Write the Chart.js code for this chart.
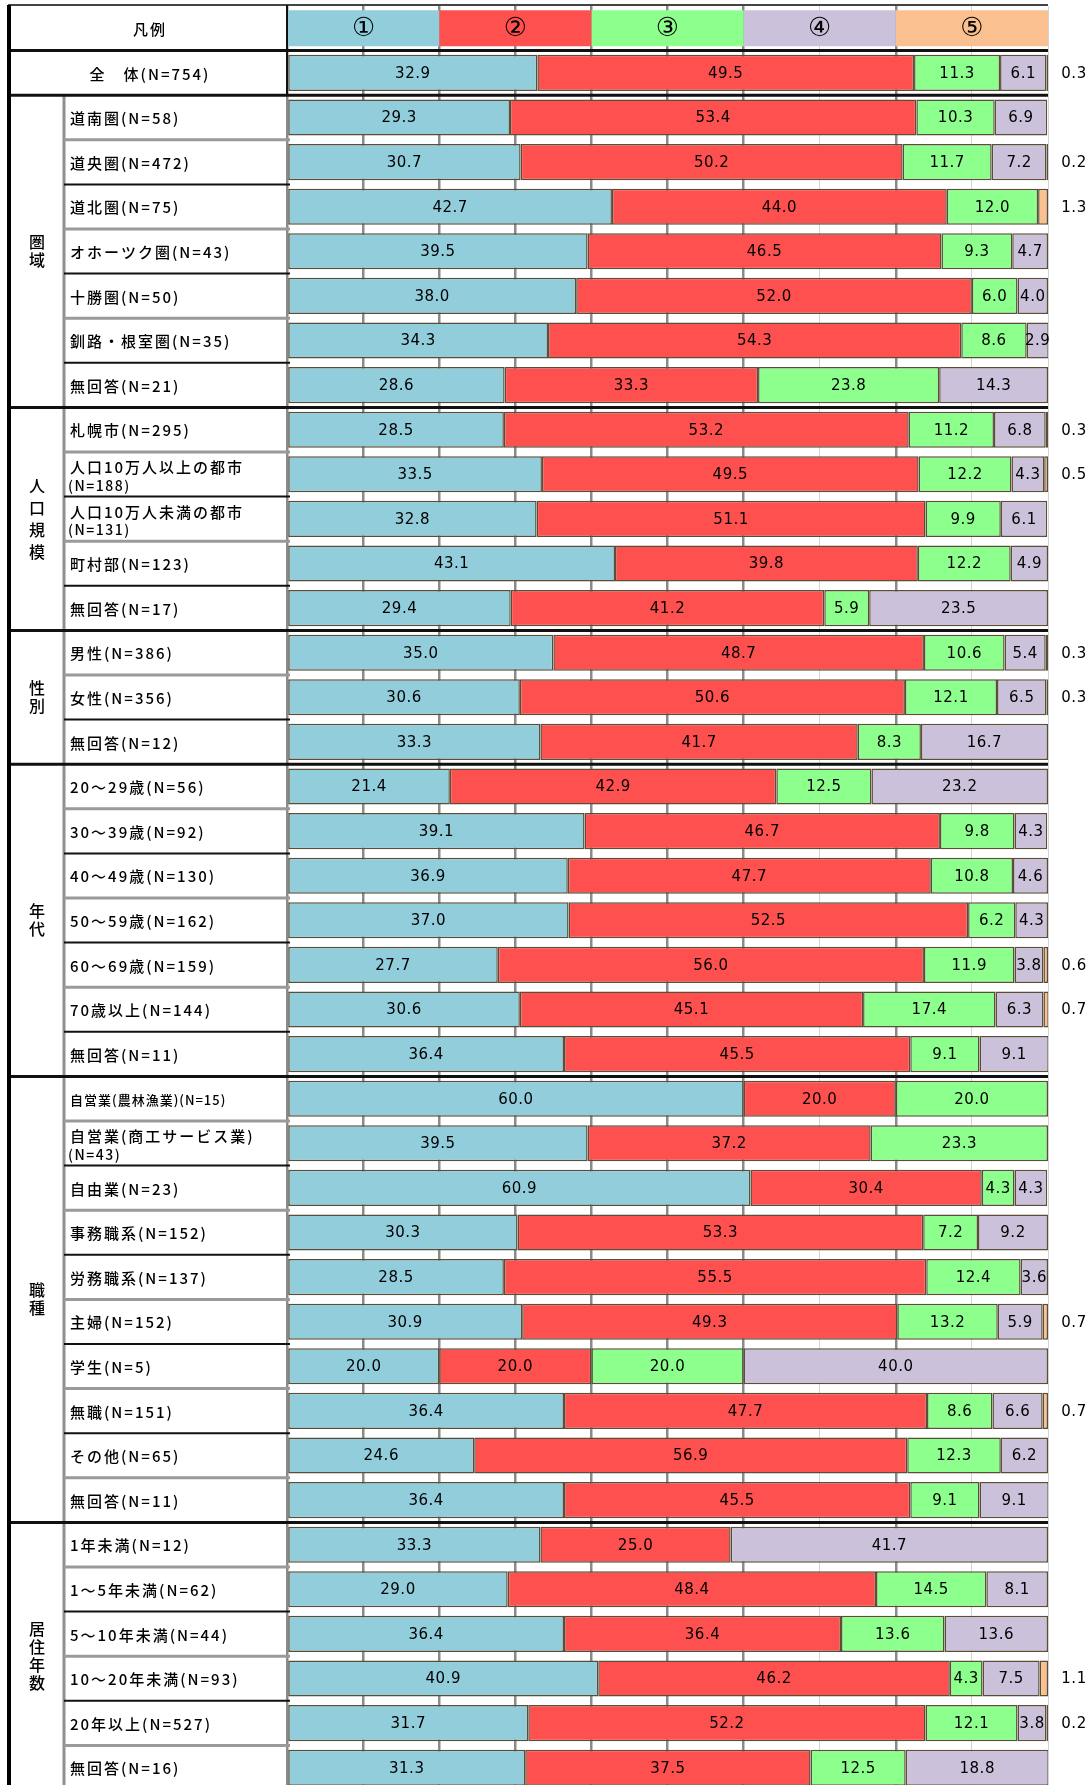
<!DOCTYPE html>
<html lang="ja">
<head>
<meta charset="utf-8">
<script src="https://cdn.jsdelivr.net/npm/chart.js@4.4.1/dist/chart.umd.min.js"></script>
<style>
  html, body { margin: 0; padding: 0; background: #fff; }
  #wrap { position: relative; width: 1092px; height: 1790px; }
</style>
</head>
<body>
<div id="wrap"><canvas id="chart"></canvas></div>
<script>
// 行ラベル（先頭は凡例行）
const categories = [
  '凡例', '全　体(N=754)',
  '道南圏(N=58)', '道央圏(N=472)', '道北圏(N=75)', 'オホーツク圏(N=43)', '十勝圏(N=50)', '釧路・根室圏(N=35)', '無回答(N=21)',
  '札幌市(N=295)', '人口10万人以上の都市\n(N=188)', '人口10万人未満の都市\n(N=131)', '町村部(N=123)', '無回答(N=17)',
  '男性(N=386)', '女性(N=356)', '無回答(N=12)',
  '20～29歳(N=56)', '30～39歳(N=92)', '40～49歳(N=130)', '50～59歳(N=162)', '60～69歳(N=159)', '70歳以上(N=144)', '無回答(N=11)',
  '自営業(農林漁業)(N=15)', '自営業(商工サービス業)\n(N=43)', '自由業(N=23)', '事務職系(N=152)', '労務職系(N=137)', '主婦(N=152)', '学生(N=5)', '無職(N=151)', 'その他(N=65)', '無回答(N=11)',
  '1年未満(N=12)', '1～5年未満(N=62)', '5～10年未満(N=44)', '10～20年未満(N=93)', '20年以上(N=527)', '無回答(N=16)'
];

const groupNames = ['圏域', '人口規模', '性別', '年代', '職種', '居住年数'];
const groupFrom  = [2, 9, 14, 17, 24, 34];
const groupTo    = [8, 13, 16, 23, 33, 39];

const legendLabels = ['①', '②', '③', '④', '⑤'];
const legendShare = [20, 20, 20, 20, 20];

// 全体 以下の各行の値（％）
const ans1 = [32.9, 29.3, 30.7, 42.7, 39.5, 38.0, 34.3, 28.6, 28.5, 33.5, 32.8, 43.1, 29.4, 35.0, 30.6, 33.3,
  21.4, 39.1, 36.9, 37.0, 27.7, 30.6, 36.4, 60.0, 39.5, 60.9, 30.3, 28.5, 30.9, 20.0, 36.4, 24.6, 36.4,
  33.3, 29.0, 36.4, 40.9, 31.7, 31.3];
const ans2 = [49.5, 53.4, 50.2, 44.0, 46.5, 52.0, 54.3, 33.3, 53.2, 49.5, 51.1, 39.8, 41.2, 48.7, 50.6, 41.7,
  42.9, 46.7, 47.7, 52.5, 56.0, 45.1, 45.5, 20.0, 37.2, 30.4, 53.3, 55.5, 49.3, 20.0, 47.7, 56.9, 45.5,
  25.0, 48.4, 36.4, 46.2, 52.2, 37.5];
const ans3 = [11.3, 10.3, 11.7, 12.0, 9.3, 6.0, 8.6, 23.8, 11.2, 12.2, 9.9, 12.2, 5.9, 10.6, 12.1, 8.3,
  12.5, 9.8, 10.8, 6.2, 11.9, 17.4, 9.1, 20.0, 23.3, 4.3, 7.2, 12.4, 13.2, 20.0, 8.6, 12.3, 9.1,
  0, 14.5, 13.6, 4.3, 12.1, 12.5];
const ans4 = [6.1, 6.9, 7.2, 0, 4.7, 4.0, 2.9, 14.3, 6.8, 4.3, 6.1, 4.9, 23.5, 5.4, 6.5, 16.7,
  23.2, 4.3, 4.6, 4.3, 3.8, 6.3, 9.1, 0, 0, 4.3, 9.2, 3.6, 5.9, 40.0, 6.6, 6.2, 9.1,
  41.7, 8.1, 13.6, 7.5, 3.8, 18.8];
const ans5 = [0.3, 0, 0.2, 1.3, 0, 0, 0, 0, 0.3, 0.5, 0, 0, 0, 0.3, 0.3, 0,
  0, 0, 0, 0, 0.6, 0.7, 0, 0, 0, 0, 0, 0, 0.7, 0, 0.7, 0, 0,
  0, 0, 0, 1.1, 0.2, 0];

const colors = ['#92CDDC', '#FF5050', '#8CFF8C', '#CCC1DA', '#FAC090'];
const series = [ans1, ans2, ans3, ans4, ans5];

const datasets = series.map((vals, k) => ({
  label: legendLabels[k],
  data: [legendShare[k]].concat(vals),
  backgroundColor: colors[k],
  borderColor: '#5a4e38',
  borderWidth: ctx => (ctx.dataIndex === 0 || !ctx.raw) ? 0 : 1.5,
  borderSkipped: false,
  stack: 'all',
  categoryPercentage: 1,
  barPercentage: 0.81
}));

const textFont = '"Noto Sans CJK JP", "Noto Sans", sans-serif';
const numFont = '"DejaVu Sans", Verdana, sans-serif';

function drawLine(ctx, x1, y1, x2, y2, color, w) {
  ctx.strokeStyle = color;
  ctx.lineWidth = w;
  ctx.beginPath();
  ctx.moveTo(x1, y1);
  ctx.lineTo(x2, y2);
  ctx.stroke();
}

const tablePlugin = {
  id: 'table',
  afterDatasetsDraw(chart) {
    const ctx = chart.ctx;
    const area = chart.chartArea;
    const y = chart.scales.y;
    const pitch = y.getPixelForValue(1) - y.getPixelForValue(0);
    const edge = i => y.getPixelForValue(i) + pitch / 2;
    ctx.save();

    // 値ラベル
    ctx.textBaseline = 'middle';
    ctx.textAlign = 'center';
    ctx.fillStyle = '#000';
    chart.data.datasets.forEach((ds, di) => {
      const meta = chart.getDatasetMeta(di);
      meta.data.forEach((bar, i) => {
        const v = ds.data[i];
        if (!v) return;
        if (i === 0) {
          ctx.font = '26px "DejaVu Sans", ' + textFont;
          ctx.letterSpacing = '0px';
          ctx.fillText(legendLabels[di], (bar.x + bar.base) / 2, bar.y + 1);
          return;
        }
        ctx.font = '15px ' + numFont;
        ctx.letterSpacing = '0.5px';
        const x = di === 4 ? area.right + 26 : (bar.x + bar.base) / 2;
        ctx.fillText(v.toFixed(1), x, bar.y + 1);
      });
    });

    // 行ラベル
    categories.forEach((lab, i) => {
      const cy = y.getPixelForValue(i);
      if (i < 2) {
        ctx.textAlign = 'center';
        ctx.font = '500 15px ' + textFont;
        ctx.letterSpacing = '2px';
        ctx.fillText(lab, 150, cy + 1);
        return;
      }
      ctx.textAlign = 'left';
      const parts = lab.split('\n');
      ctx.letterSpacing = '2px';
      if (parts.length === 2) {
        ctx.font = '500 15px ' + textFont;
        ctx.fillText(parts[0], 70, cy - 7);
        ctx.font = '500 14px ' + textFont;
        ctx.letterSpacing = '1.5px';
        ctx.fillText(parts[1], 68, cy + 11);
      } else {
        ctx.font = (lab.length > 14 ? '500 13px ' : '500 15px ') + textFont;
        if (lab.length > 14) ctx.letterSpacing = '1px';
        ctx.fillText(lab, 70, cy + 1);
      }
    });

    // 分類（縦書き）
    ctx.textAlign = 'center';
    ctx.font = '500 16px ' + textFont;
    ctx.letterSpacing = '0px';
    groupNames.forEach((g, k) => {
      const mid = (y.getPixelForValue(groupFrom[k]) + y.getPixelForValue(groupTo[k])) / 2;
      const gap = k === 1 ? 22 : 18;
      [...g].forEach((ch, j) => {
        ctx.fillText(ch, 37, mid + (j - (g.length - 1) / 2) * gap);
      });
      // 縦の区切り
      drawLine(ctx, 64, edge(groupFrom[k] - 1), 64, edge(groupTo[k]), '#8f8f8f', 3);
      // 行の区切り
      for (let i = groupFrom[k]; i < groupTo[k]; i++) {
        const yy = edge(i);
        if ((i - groupFrom[k]) % 2 === 0) drawLine(ctx, 64, yy, 290, yy, '#9a9a9a', 3);
        else drawLine(ctx, 64, yy, 290, yy, '#111', 2);
      }
    });

    // 大区切り
    [0, 1, 8, 13, 16, 23, 33].forEach(i => {
      const yy = edge(i);
      drawLine(ctx, 8, yy, area.right, yy, '#111', 3);
    });
    drawLine(ctx, 8, 5, area.right, 5, '#444', 2);
    drawLine(ctx, 9, 5, 9, chart.height, '#000', 4);
    drawLine(ctx, area.left, 5, area.left, edge(1), '#111', 2);
    ctx.restore();
  }
};

new Chart(document.getElementById('chart'), {
  type: 'bar',
  data: { labels: categories, datasets: datasets },
  options: {
    indexAxis: 'y',
    responsive: true,
    maintainAspectRatio: false,
    animation: false,
    layout: { padding: { left: 287, right: 44, top: 6, bottom: 0 } },
    plugins: {
      legend: { display: false },
      tooltip: { enabled: false }
    },
    scales: {
      x: {
        stacked: true,
        min: 0,
        max: 100,
        ticks: { display: false, stepSize: 10 },
        border: { display: false },
        grid: {
          drawTicks: false,
          color: c => [70, 90, 100].includes(c.tick.value) ? '#d4d4d4' : '#8a8a8a',
          lineWidth: c => [70, 90, 100].includes(c.tick.value) ? 1 : 2.5
        },
        afterFit: s => { s.height = 0; }
      },
      y: {
        stacked: true,
        display: false
      }
    }
  },
  plugins: [tablePlugin]
});
</script>
</body>
</html>
